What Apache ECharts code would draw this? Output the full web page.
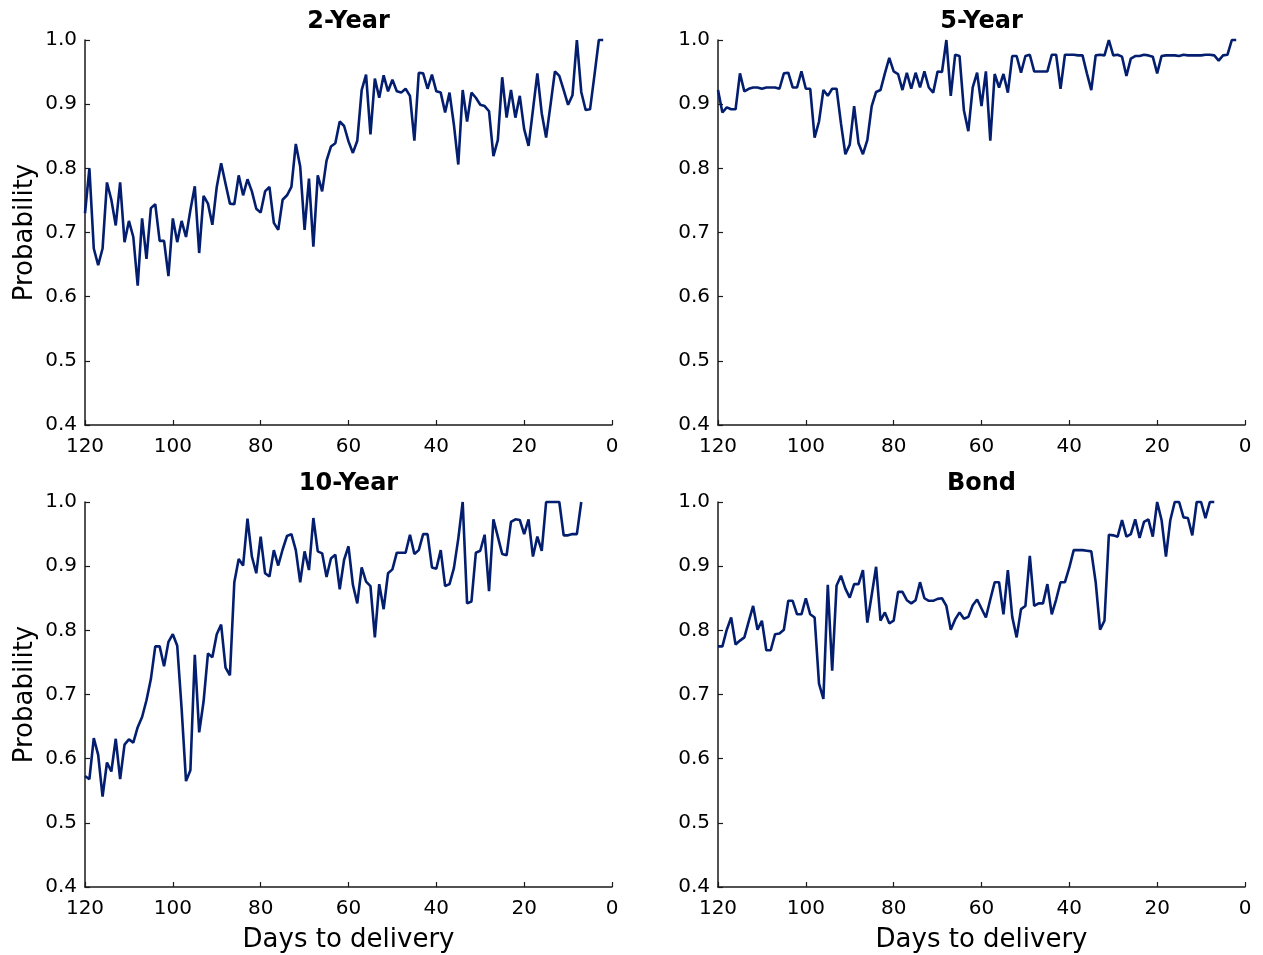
<!DOCTYPE html>
<html>
<head>
<meta charset="utf-8">
<script src="https://cdn.jsdelivr.net/npm/echarts@6/dist/echarts.min.js"></script>
<style>html,body{margin:0;padding:0;background:#fff}#c{width:1263px;height:955px}</style>
</head>
<body>
<div id="c"></div>
<script>
// Days to delivery: each series starts at day 120 and steps down one day per value
const START_DAY = 120;
const titles = ["2-Year", "5-Year", "10-Year", "Bond"];
const xTicks = [0, 20, 40, 60, 80, 100, 120];
const yTicks = [0.4, 0.5, 0.6, 0.7, 0.8, 0.9, 1.0];

const twoYear = [
0.73,0.80,0.675,0.649,0.675,0.778,0.751,0.711,0.778,0.685,
0.718,0.693,0.617,0.722,0.659,0.738,0.744,0.687,0.687,0.632,
0.722,0.685,0.718,0.693,0.735,0.772,0.668,0.757,0.745,0.712,
0.771,0.808,0.776,0.745,0.744,0.789,0.758,0.783,0.764,0.737,
0.731,0.764,0.771,0.715,0.704,0.751,0.758,0.771,0.838,0.803,
0.704,0.784,0.678,0.789,0.764,0.812,0.834,0.839,0.873,0.866,
0.842,0.824,0.843,0.922,0.946,0.853,0.940,0.910,0.945,0.920,
0.938,0.920,0.918,0.924,0.913,0.843,0.949,0.948,0.924,0.946,
0.920,0.918,0.887,0.918,0.868,0.806,0.922,0.873,0.918,0.910,
0.899,0.897,0.889,0.819,0.844,0.942,0.879,0.922,0.879,0.913,
0.861,0.835,0.891,0.948,0.886,0.848,0.899,0.951,0.944,0.922,
0.899,0.914,1.0,0.919,0.891,0.892,0.945,1.0,1.0
];
const fiveYear = [
0.922,0.887,0.895,0.892,0.892,0.948,0.920,0.924,0.926,0.926,
0.924,0.926,0.926,0.926,0.924,0.948,0.949,0.926,0.926,0.951,
0.924,0.924,0.848,0.873,0.922,0.913,0.924,0.924,0.870,0.822,
0.837,0.897,0.839,0.822,0.844,0.897,0.919,0.922,0.948,0.972,
0.951,0.947,0.922,0.949,0.924,0.949,0.926,0.951,0.926,0.918,
0.951,0.950,1.0,0.913,0.977,0.975,0.890,0.858,0.926,0.949,
0.897,0.951,0.843,0.947,0.926,0.947,0.918,0.975,0.975,0.949,
0.975,0.977,0.951,0.951,0.951,0.951,0.977,0.977,0.924,0.977,
0.977,0.977,0.976,0.976,0.948,0.922,0.976,0.977,0.976,1.0,
0.976,0.977,0.974,0.944,0.971,0.975,0.975,0.977,0.976,0.974,
0.948,0.975,0.976,0.976,0.976,0.975,0.977,0.976,0.976,0.976,
0.976,0.977,0.977,0.976,0.968,0.976,0.977,1.0,1.0
];
const tenYear = [
0.573,0.568,0.632,0.606,0.541,0.594,0.580,0.631,0.568,0.622,
0.630,0.625,0.649,0.665,0.691,0.724,0.775,0.775,0.744,0.782,
0.794,0.776,0.678,0.565,0.582,0.762,0.641,0.689,0.764,0.758,
0.794,0.809,0.742,0.730,0.875,0.911,0.901,0.974,0.915,0.889,
0.946,0.889,0.884,0.925,0.901,0.926,0.947,0.950,0.925,0.875,
0.923,0.894,0.975,0.923,0.920,0.883,0.912,0.918,0.864,0.910,
0.931,0.871,0.842,0.898,0.876,0.869,0.789,0.872,0.833,0.889,
0.895,0.921,0.921,0.921,0.949,0.919,0.925,0.950,0.950,0.898,
0.896,0.925,0.869,0.872,0.897,0.943,1.0,0.842,0.845,0.921,
0.924,0.949,0.861,0.973,0.946,0.919,0.917,0.969,0.973,0.972,
0.950,0.973,0.915,0.946,0.924,1.0,1.0,1.0,1.0,0.948,
0.948,0.950,0.950,1.0
];
const bond = [
0.775,0.775,0.801,0.820,0.778,0.784,0.789,0.814,0.838,0.801,
0.815,0.769,0.769,0.794,0.795,0.801,0.846,0.846,0.825,0.825,
0.850,0.825,0.820,0.717,0.693,0.871,0.737,0.870,0.885,0.865,
0.851,0.872,0.872,0.894,0.812,0.855,0.899,0.815,0.828,0.811,
0.815,0.860,0.860,0.847,0.842,0.847,0.875,0.850,0.846,0.846,
0.849,0.850,0.838,0.801,0.817,0.828,0.818,0.821,0.839,0.848,
0.834,0.820,0.848,0.875,0.875,0.825,0.894,0.821,0.789,0.833,
0.838,0.916,0.838,0.842,0.842,0.872,0.825,0.848,0.875,0.875,
0.898,0.925,0.925,0.925,0.924,0.923,0.875,0.801,0.815,0.949,
0.948,0.946,0.972,0.946,0.950,0.973,0.944,0.969,0.973,0.946,
1.0,0.972,0.915,0.972,1.0,1.0,0.976,0.975,0.948,1.0,
1.0,0.975,1.0,1.0
];

const seriesValues = [twoYear, fiveYear, tenYear, bond];
const toPairs = vals => vals.map((v, i) => [START_DAY - i, v]);

const FONT = "DejaVu Sans";
const LINE_COLOR = "#041e6f";
const AXIS_COLOR = "#1a1a1a";
const gridPos = [
  {left: 85, top: 40, width: 527, height: 385},
  {left: 718, top: 40, width: 527, height: 385},
  {left: 85, top: 502, width: 527, height: 385},
  {left: 718, top: 502, width: 527, height: 385}
];

const option = {
  animation: false,
  backgroundColor: "#ffffff",
  title: titles.map((t, i) => ({
    text: t,
    left: gridPos[i].left + gridPos[i].width / 2,
    top: gridPos[i].top - 30,
    padding: 0,
    textAlign: "center",
    textStyle: {fontFamily: FONT, fontSize: 24, fontWeight: "bold", color: "#000"}
  })),
  grid: gridPos.map(g => Object.assign({containLabel: false}, g)),
  xAxis: gridPos.map((g, i) => ({
    gridIndex: i,
    type: "value",
    inverse: true,
    min: xTicks[0],
    max: xTicks[xTicks.length - 1],
    interval: 20,
    name: i >= 2 ? "Days to delivery" : "",
    nameLocation: "middle",
    nameGap: 40,
    nameTextStyle: {fontFamily: FONT, fontSize: 26, color: "#000"},
    axisLine: {show: true, onZero: false, lineStyle: {color: AXIS_COLOR, width: 1.5}},
    axisTick: {show: true, inside: true, length: 5, lineStyle: {color: AXIS_COLOR, width: 1.2}},
    axisLabel: {fontFamily: FONT, fontSize: 20, color: "#000", margin: 12, showMinLabel: true, showMaxLabel: true},
    splitLine: {show: false}
  })),
  yAxis: gridPos.map((g, i) => ({
    gridIndex: i,
    type: "value",
    min: yTicks[0],
    max: yTicks[yTicks.length - 1],
    interval: 0.1,
    name: (i % 2 === 0) ? "Probability" : "",
    nameLocation: "middle",
    nameRotate: 90,
    nameGap: 47,
    nameTextStyle: {fontFamily: FONT, fontSize: 26, color: "#000"},
    axisLine: {show: true, onZero: false, lineStyle: {color: AXIS_COLOR, width: 1.5}},
    axisTick: {show: true, inside: true, length: 5, lineStyle: {color: AXIS_COLOR, width: 1.2}},
    axisLabel: {fontFamily: FONT, fontSize: 20, color: "#000", margin: 8, formatter: v => v.toFixed(1)},
    splitLine: {show: false}
  })),
  series: seriesValues.map((vals, i) => ({
    type: "line",
    xAxisIndex: i,
    yAxisIndex: i,
    data: toPairs(vals),
    showSymbol: false,
    symbol: "none",
    lineStyle: {color: LINE_COLOR, width: 2.6},
    clip: false
  }))
};

const chart = echarts.init(document.getElementById("c"), null, {renderer: "canvas"});
chart.setOption(option);
</script>
</body>
</html>
